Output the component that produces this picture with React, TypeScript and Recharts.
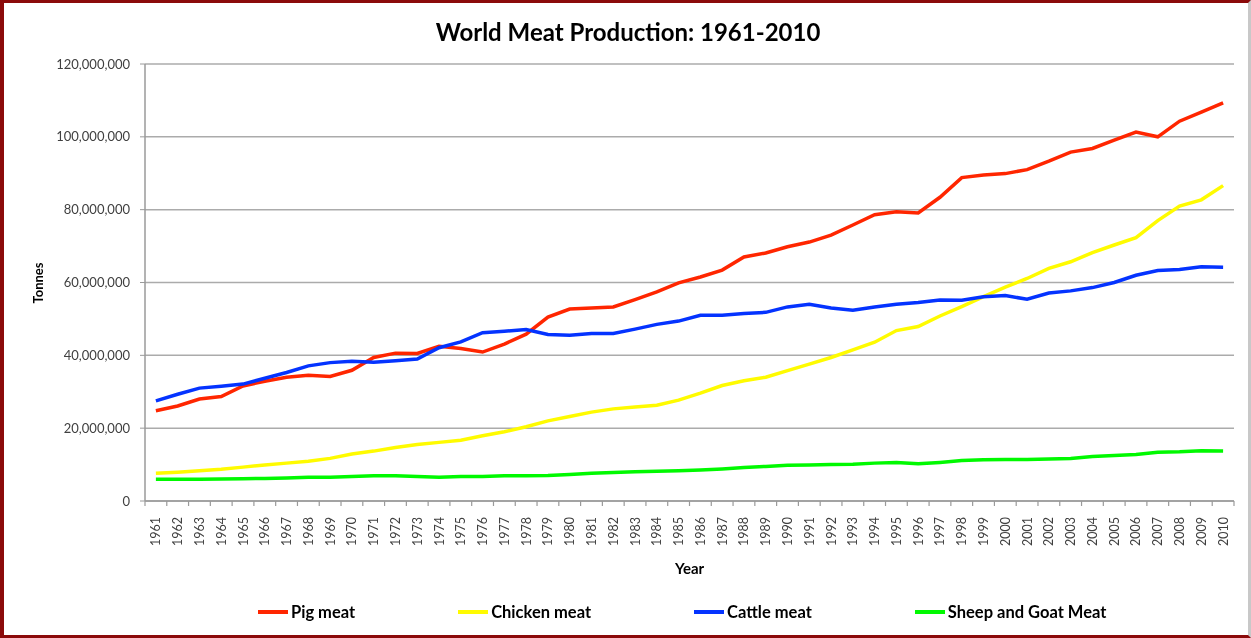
import React from "react";
import { LineChart, Line, XAxis, YAxis, CartesianGrid } from "recharts";

const years = [
  "1961","1962","1963","1964","1965","1966","1967","1968","1969","1970",
  "1971","1972","1973","1974","1975","1976","1977","1978","1979","1980",
  "1981","1982","1983","1984","1985","1986","1987","1988","1989","1990",
  "1991","1992","1993","1994","1995","1996","1997","1998","1999","2000",
  "2001","2002","2003","2004","2005","2006","2007","2008","2009","2010",
];

// values in millions of tonnes
const pigMeat = [
  24.8, 26.1, 28.0, 28.7, 31.6, 32.9, 34.0, 34.5, 34.2, 35.9,
  39.4, 40.6, 40.5, 42.5, 41.9, 40.9, 43.1, 45.8, 50.5, 52.7,
  53.0, 53.3, 55.3, 57.4, 59.9, 61.5, 63.4, 67.0, 68.1, 69.8,
  71.1, 73.0, 75.8, 78.6, 79.4, 79.1, 83.4, 88.8, 89.5, 89.9,
  91.0, 93.3, 95.8, 96.8, 99.1, 101.3, 100.0, 104.3, 106.8, 109.3,
];
const chickenMeat = [
  7.6, 7.9, 8.3, 8.7, 9.3, 9.9, 10.4, 10.9, 11.7, 12.9,
  13.7, 14.7, 15.5, 16.1, 16.7, 17.9, 19.0, 20.4, 22.0, 23.2,
  24.4, 25.3, 25.8, 26.3, 27.7, 29.6, 31.7, 33.0, 34.0, 35.8,
  37.6, 39.4, 41.5, 43.6, 46.8, 47.9, 50.8, 53.4, 56.1, 58.7,
  61.1, 63.9, 65.7, 68.2, 70.3, 72.3, 77.0, 81.0, 82.7, 86.6,
];
const cattleMeat = [
  27.5, 29.3, 31.0, 31.5, 32.1, 33.7, 35.3, 37.1, 38.0, 38.4,
  38.1, 38.5, 39.0, 42.1, 43.7, 46.2, 46.6, 47.1, 45.7, 45.5,
  46.0, 46.0, 47.2, 48.5, 49.4, 51.0, 51.0, 51.5, 51.8, 53.3,
  54.0, 53.0, 52.4, 53.3, 54.0, 54.5, 55.2, 55.1, 56.1, 56.4,
  55.4, 57.1, 57.7, 58.6, 60.0, 62.0, 63.3, 63.6, 64.3, 64.2,
];
const sheepGoatMeat = [
  5.95, 6.0, 6.0, 6.05, 6.1, 6.2, 6.3, 6.5, 6.5, 6.7,
  6.9, 6.9, 6.7, 6.5, 6.7, 6.7, 6.9, 6.9, 7.0, 7.3,
  7.6, 7.8, 8.0, 8.2, 8.3, 8.5, 8.8, 9.2, 9.5, 9.8,
  9.9, 10.0, 10.1, 10.4, 10.6, 10.2, 10.6, 11.1, 11.3, 11.4,
  11.4, 11.5, 11.7, 12.2, 12.5, 12.8, 13.4, 13.5, 13.8, 13.7,
];

const yTicks = [0, 20000000, 40000000, 60000000, 80000000, 100000000, 120000000];

const seriesNames = ["Pig meat", "Chicken meat", "Cattle meat", "Sheep and Goat Meat"];
const seriesKeys = ["pig", "chicken", "cattle", "sheep"];
const seriesColors = ["#FF2600", "#FFFB00", "#0433FF", "#00F900"];

const data = years.map((y, i) => ({
  year: y,
  pig: pigMeat[i] * 1e6,
  chicken: chickenMeat[i] * 1e6,
  cattle: cattleMeat[i] * 1e6,
  sheep: sheepGoatMeat[i] * 1e6,
}));

const FONT = "Lato, 'Open Sans', 'Liberation Sans', sans-serif";
const W = 1251;
const H = 638;
const PLOT_LEFT = 145;
const PLOT_RIGHT = 1234;
const BAND = (PLOT_RIGHT - PLOT_LEFT) / years.length;

const XTick = (props: any) => {
  const { x, y, payload, index } = props;
  const half = BAND / 2;
  return (
    <g>
      <line x1={x - half} y1={y} x2={x - half} y2={y + 5} stroke="#9a9a9a" strokeWidth={1.2} />
      {index === years.length - 1 && (
        <line x1={x + half} y1={y} x2={x + half} y2={y + 5} stroke="#9a9a9a" strokeWidth={1.2} />
      )}
      <text
        x={0}
        y={0}
        transform={`translate(${x + 4.5},${y + 16}) rotate(-90)`}
        textAnchor="end"
        fontSize={12.5}
        fontFamily={FONT}
        fill="#404040"
      >
        {payload.value}
      </text>
    </g>
  );
};

export default function App() {
  return (
    <div
      style={{
        position: "fixed",
        top: 0,
        left: 0,
        width: W,
        height: H,
        background: "#fff",
        fontFamily: FONT,
        boxSizing: "border-box",
        borderTop: "3px solid #8b0a0a",
        borderLeft: "4px solid #8b0a0a",
        borderBottom: "3px solid #8b0a0a",
        borderRight: "3px solid #c8c8c8",
      }}
    >
      <div style={{ position: "absolute", top: -3, left: -4, width: W, height: H }}>
        <div
          style={{
            position: "absolute",
            top: 17,
            left: 0,
            width: 1256,
            textAlign: "center",
            fontSize: 24,
            fontWeight: 700,
            color: "#000",
            lineHeight: "30px",
          }}
        >
          World Meat Production: 1961-2010
        </div>
        <LineChart
          width={W}
          height={H}
          data={data}
          margin={{ top: 64, right: W - PLOT_RIGHT, bottom: 77, left: 60 }}
        >
          <CartesianGrid vertical={false} stroke="#ababab" strokeWidth={1.5} />
          <XAxis
            dataKey="year"
            interval={0}
            height={60}
            padding={{ left: BAND / 2, right: BAND / 2 }}
            tickLine={false}
            tickSize={0}
            tickMargin={0}
            tick={<XTick />}
            axisLine={{ stroke: "#9a9a9a", strokeWidth: 1.5 }}
          />
          <YAxis
            width={85}
            domain={[0, 120000000]}
            ticks={yTicks}
            interval={0}
            tickSize={5}
            tickMargin={10}
            tickLine={{ stroke: "#9a9a9a" }}
            axisLine={{ stroke: "#9a9a9a", strokeWidth: 1.5 }}
            tick={{ fontSize: 13, fill: "#404040", fontFamily: FONT }}
            tickFormatter={(v: number) => v.toLocaleString("en-US")}
          />
          {seriesKeys.map((k, i) => (
            <Line
              key={k}
              type="linear"
              dataKey={k}
              name={seriesNames[i]}
              stroke={seriesColors[i]}
              strokeWidth={3.5}
              dot={false}
              isAnimationActive={false}
            />
          ))}
        </LineChart>
        <div
          style={{
            position: "absolute",
            left: 38,
            top: 283,
            transform: "translate(-50%,-50%) rotate(-90deg)",
            fontSize: 13,
            fontWeight: 700,
            color: "#000",
          }}
        >
          Tonnes
        </div>
        <div
          style={{
            position: "absolute",
            left: (PLOT_LEFT + PLOT_RIGHT) / 2,
            top: 559,
            transform: "translateX(-50%)",
            fontSize: 15,
            fontWeight: 700,
            color: "#000",
          }}
        >
          Year
        </div>
        <div
          style={{
            position: "absolute",
            left: 258,
            top: 601,
            display: "flex",
            alignItems: "center",
            gap: 103,
          }}
        >
          {seriesNames.map((n, i) => (
            <div key={n} style={{ display: "flex", alignItems: "center" }}>
              <div style={{ width: 30, height: 4, background: seriesColors[i], marginRight: 3 }} />
              <span style={{ fontSize: 16.5, fontWeight: 700, color: "#000", lineHeight: "22px" }}>{n}</span>
            </div>
          ))}
        </div>
      </div>
    </div>
  );
}
